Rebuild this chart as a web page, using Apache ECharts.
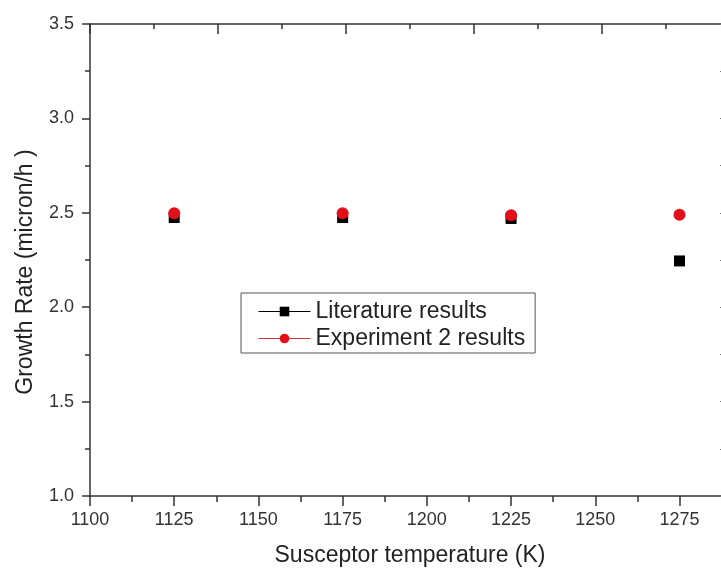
<!DOCTYPE html>
<html>
<head>
<meta charset="utf-8">
<script src="https://cdn.jsdelivr.net/npm/echarts@6/dist/echarts.min.js"></script>
<style>
  html, body { margin: 0; padding: 0; background: #fff; }
  #chart { width: 721px; height: 570px; }
</style>
</head>
<body>
<div id="chart"></div>
<script>
// susceptor temperature (K)
const temperatures = [1125, 1175, 1225, 1275]
// growth rate (micron/h)
const literature = [2.475, 2.475, 2.47, 2.245]
const experiment2 = [2.497, 2.497, 2.487, 2.49]

const axisColor = '#333'
const fontFamily = 'Liberation Sans, Arial, sans-serif'

const chart = echarts.init(document.getElementById('chart'))

const pairs = (ys) => temperatures.map((t, i) => [t, ys[i]])

chart.setOption({
  animation: false,
  textStyle: { fontFamily: fontFamily },
  grid: { left: 90, right: -9, top: 24, bottom: 74, outerBoundsMode: 'none', containLabel: false },
  legend: {
    orient: 'vertical',
    left: 241,
    top: 293,
    padding: [7, 10, 3, 17],
    itemGap: 4,
    itemWidth: 52,
    itemHeight: 12,
    itemTextGap: 9,
    borderColor: '#555',
    borderWidth: 1,
    borderRadius: 0,
    textStyle: { fontSize: 23, color: '#222', fontFamily: fontFamily },
    lineStyle: { width: 1, opacity: 1 },
    data: ['Literature results', 'Experiment 2 results']
  },
  xAxis: [
    {
      type: 'value',
      min: 1100,
      max: 1290,
      interval: 25,
      name: 'Susceptor temperature (K)',
      nameLocation: 'middle',
      nameGap: 48,
      nameTextStyle: { fontSize: 23, color: '#222' },
      axisLine: { onZero: false, lineStyle: { color: axisColor, width: 1.5 } },
      axisTick: { inside: false, length: 10, lineStyle: { color: axisColor, width: 1.5 } },
      minorTick: { show: true, splitNumber: 2, length: 6, lineStyle: { color: axisColor, width: 1.5 } },
      axisLabel: {
        fontSize: 18, color: '#333', margin: 15,
        formatter: v => (v > 1280 ? '' : v)
      },
      splitLine: { show: false }
    },
    {
      type: 'value',
      position: 'top',
      min: 0,
      max: 5,
      interval: 1,
      axisLine: { onZero: false, lineStyle: { color: axisColor, width: 1.5 } },
      axisTick: { inside: true, length: 10, lineStyle: { color: axisColor, width: 1.5 } },
      minorTick: { show: true, splitNumber: 2, length: 5, lineStyle: { color: axisColor, width: 1.5 } },
      axisLabel: { show: false },
      splitLine: { show: false }
    }
  ],
  yAxis: [
    {
      type: 'value',
      min: 1.0,
      max: 3.5,
      interval: 0.5,
      name: 'Growth Rate (micron/h )',
      nameLocation: 'middle',
      nameGap: 53,
      nameTextStyle: { fontSize: 23, color: '#222', padding: [0, 24, 0, 0] },
      axisLine: { onZero: false, lineStyle: { color: axisColor, width: 1.5 } },
      axisTick: { inside: false, length: 8, lineStyle: { color: axisColor, width: 1.5 } },
      minorTick: { show: true, splitNumber: 2, length: 5, lineStyle: { color: axisColor, width: 1.5 } },
      axisLabel: {
        fontSize: 18, color: '#333', margin: 16,
        formatter: v => v.toFixed(1)
      },
      splitLine: { show: false }
    },
    {
      type: 'value',
      position: 'right',
      min: 1.0,
      max: 3.5,
      interval: 0.5,
      axisLine: { onZero: false, lineStyle: { color: axisColor, width: 1.5 } },
      axisTick: { inside: true, length: 10, lineStyle: { color: '#777', width: 1 } },
      minorTick: { show: true, splitNumber: 2, length: 10, lineStyle: { color: '#777', width: 1 } },
      axisLabel: { show: false },
      splitLine: { show: false }
    }
  ],
  series: [
    {
      name: 'Literature results',
      type: 'line',
      data: pairs(literature),
      symbol: 'rect',
      symbolSize: 11,
      itemStyle: { color: '#000' },
      lineStyle: { width: 0, color: '#000' },
      z: 2
    },
    {
      name: 'Experiment 2 results',
      type: 'line',
      data: pairs(experiment2),
      symbol: 'circle',
      symbolSize: 12,
      itemStyle: { color: '#e3101a', borderWidth: 0 },
      lineStyle: { width: 0, color: '#c8383e' },
      z: 3
    }
  ]
})
</script>
</body>
</html>
